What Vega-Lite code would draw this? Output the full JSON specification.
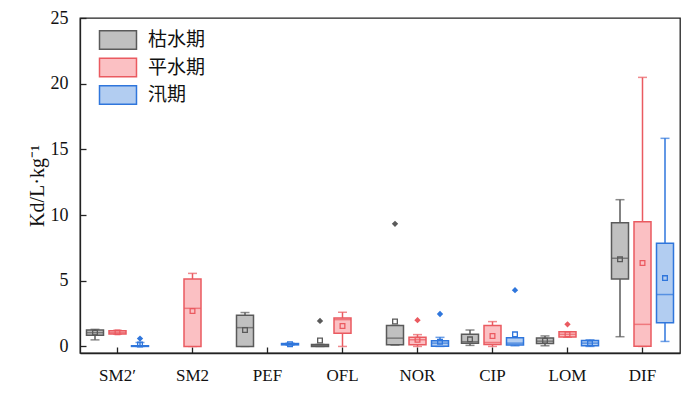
{
  "$schema": "https://vega.github.io/schema/vega-lite/v6.json",
  "width": 600,
  "height": 335,
  "autosize": "none",
  "padding": {"left": 80, "top": 18, "right": 20, "bottom": 40},
  "background": "white",
  "config": {
    "view": {"stroke": "#222", "strokeWidth": 1.3},
    "axis": {"grid": false, "domainColor": "#222", "domainWidth": 1.3, "tickColor": "#222", "tickWidth": 1.3, "labelFont": "Liberation Serif", "labelColor": "#111", "titleFont": "Liberation Serif", "titleColor": "#111"}
  },
  "datasets": {
    "boxes": [
      {"cat": "SM2′", "season": "枯水期", "min": 0.5, "q1": 0.85, "med": 1.05, "q3": 1.25, "max": 1.3, "mean": 1.05},
      {"cat": "SM2′", "season": "平水期", "min": 0.95, "q1": 0.95, "med": 1.05, "q3": 1.2, "max": 1.22, "mean": 1.07},
      {"cat": "SM2′", "season": "汛期", "min": 0, "q1": 0, "med": 0.02, "q3": 0.05, "max": 0.3, "mean": 0.15},
      {"cat": "SM2", "season": "平水期", "min": 0, "q1": 0, "med": 2.9, "q3": 5.13, "max": 5.56, "mean": 2.7},
      {"cat": "PEF", "season": "枯水期", "min": 0, "q1": 0, "med": 1.43, "q3": 2.37, "max": 2.58, "mean": 1.25},
      {"cat": "PEF", "season": "汛期", "min": 0.1, "q1": 0.12, "med": 0.17, "q3": 0.22, "max": 0.25, "mean": 0.17},
      {"cat": "OFL", "season": "枯水期", "min": 0, "q1": 0, "med": 0.05, "q3": 0.15, "max": 0.15, "mean": 0.45},
      {"cat": "OFL", "season": "平水期", "min": 0, "q1": 1.0, "med": 2.04, "q3": 2.17, "max": 2.6, "mean": 1.55},
      {"cat": "NOR", "season": "枯水期", "min": 0.1, "q1": 0.13, "med": 0.63, "q3": 1.6, "max": 1.6, "mean": 1.9},
      {"cat": "NOR", "season": "平水期", "min": 0, "q1": 0.13, "med": 0.51, "q3": 0.69, "max": 0.9, "mean": 0.5},
      {"cat": "NOR", "season": "汛期", "min": 0, "q1": 0.02, "med": 0.25, "q3": 0.43, "max": 0.69, "mean": 0.35},
      {"cat": "CIP", "season": "枯水期", "min": 0.08, "q1": 0.25, "med": 0.36, "q3": 0.92, "max": 1.25, "mean": 0.54},
      {"cat": "CIP", "season": "平水期", "min": 0, "q1": 0.15, "med": 0.3, "q3": 1.6, "max": 1.89, "mean": 0.79},
      {"cat": "CIP", "season": "汛期", "min": 0.05, "q1": 0.1, "med": 0.25, "q3": 0.66, "max": 0.66, "mean": 0.92},
      {"cat": "LOM", "season": "枯水期", "min": 0.05, "q1": 0.23, "med": 0.4, "q3": 0.64, "max": 0.8, "mean": 0.43},
      {"cat": "LOM", "season": "平水期", "min": 0.7, "q1": 0.71, "med": 0.92, "q3": 1.12, "max": 1.12, "mean": 0.93},
      {"cat": "LOM", "season": "汛期", "min": 0, "q1": 0.05, "med": 0.25, "q3": 0.46, "max": 0.5, "mean": 0.25},
      {"cat": "DIF", "season": "枯水期", "min": 0.74, "q1": 5.13, "med": 6.71, "q3": 9.41, "max": 11.17, "mean": 6.63},
      {"cat": "DIF", "season": "平水期", "min": 0, "q1": 0.02, "med": 1.68, "q3": 9.49, "max": 20.48, "mean": 6.35},
      {"cat": "DIF", "season": "汛期", "min": 0.38, "q1": 1.81, "med": 3.95, "q3": 7.86, "max": 15.84, "mean": 5.2}
    ],
    "outliers": [
      {"cat": "SM2′", "season": "汛期", "value": 0.6},
      {"cat": "OFL", "season": "枯水期", "value": 1.94},
      {"cat": "NOR", "season": "枯水期", "value": 9.33},
      {"cat": "NOR", "season": "平水期", "value": 2.0},
      {"cat": "NOR", "season": "汛期", "value": 2.47},
      {"cat": "CIP", "season": "汛期", "value": 4.28},
      {"cat": "LOM", "season": "平水期", "value": 1.68}
    ]
  },
  "encoding": {
    "x": {"field": "cat", "type": "nominal", "sort": ["SM2′", "SM2", "PEF", "OFL", "NOR", "CIP", "LOM", "DIF"],
      "scale": {"domain": ["SM2′", "SM2", "PEF", "OFL", "NOR", "CIP", "LOM", "DIF"], "paddingInner": 0.1, "paddingOuter": 0.05},
      "axis": {"title": null, "labelAngle": 0, "labelFontSize": 17, "tickSize": -6, "labelPadding": 20, "domain": true}},
    "xOffset": {"field": "season", "type": "nominal", "scale": {"domain": ["枯水期", "平水期", "汛期"], "padding": 0}}
  },
  "layer": [
    {
      "data": {"name": "boxes"},
      "mark": {"type": "rule", "strokeWidth": 1.5},
      "encoding": {
        "y": {"field": "min", "type": "quantitative", "scale": {"domain": [-0.5, 25], "nice": false, "zero": false},
          "axis": {"values": [0, 5, 10, 15, 20, 25], "title": "Kd/L·kg⁻¹", "titleFontSize": 20, "titleFontWeight": "normal", "titlePadding": 3, "labelFontSize": 18, "tickSize": -6, "labelPadding": 18}},
        "y2": {"field": "max"},
        "stroke": {"field": "season", "type": "nominal", "scale": {"domain": ["枯水期", "平水期", "汛期"], "range": ["#5a5a5a", "#ea5a60", "#2f76dc"]}}
      }
    },
    {
      "data": {"name": "boxes"},
      "mark": {"type": "tick", "thickness": 1.5, "size": 9, "orient": "horizontal"},
      "encoding": {
        "y": {"field": "min", "type": "quantitative"},
        "color": {"field": "season", "type": "nominal", "sort": ["枯水期", "平水期", "汛期"], "scale": {"range": ["#5a5a5a", "#ea5a60", "#2f76dc"]}, "legend": null}
      }
    },
    {
      "data": {"name": "boxes"},
      "mark": {"type": "tick", "thickness": 1.5, "size": 9, "orient": "horizontal"},
      "encoding": {
        "y": {"field": "max", "type": "quantitative"},
        "color": {"field": "season", "type": "nominal", "sort": ["枯水期", "平水期", "汛期"], "legend": null}
      }
    },
    {
      "data": {"name": "boxes"},
      "mark": {"type": "bar", "size": 17, "strokeWidth": 1.5},
      "encoding": {
        "y": {"field": "q1", "type": "quantitative"},
        "y2": {"field": "q3"},
        "fill": {"field": "season", "type": "nominal", "scale": {"domain": ["枯水期", "平水期", "汛期"], "range": ["#c0c0c0", "#fbc0c3", "#b2cdf1"]},
          "legend": {"title": null, "orient": "none", "legendX": 28, "legendY": 12, "symbolType": "M-2,-1H2V1H-2Z", "symbolSize": 342, "symbolStrokeWidth": 1.5, "labelFont": "Noto Sans CJK SC", "labelFontSize": 19, "labelColor": "#111", "labelOffset": 20, "rowPadding": 1.5, "symbolOpacity": 1}},
        "stroke": {"field": "season", "type": "nominal",
          "legend": {"title": null, "orient": "none", "legendX": 28, "legendY": 12, "symbolType": "M-2,-1H2V1H-2Z", "symbolSize": 342, "symbolStrokeWidth": 1.5, "labelFont": "Noto Sans CJK SC", "labelFontSize": 19, "labelColor": "#111", "labelOffset": 20, "rowPadding": 1.5, "symbolOpacity": 1}}
      }
    },
    {
      "data": {"name": "boxes"},
      "mark": {"type": "tick", "thickness": 1.5, "size": 17, "orient": "horizontal"},
      "encoding": {
        "y": {"field": "med", "type": "quantitative"},
        "color": {"field": "season", "type": "nominal", "sort": ["枯水期", "平水期", "汛期"], "legend": null}
      }
    },
    {
      "data": {"name": "boxes"},
      "mark": {"type": "point", "shape": "square", "size": 22, "filled": false, "strokeWidth": 1.3, "opacity": 1},
      "encoding": {
        "y": {"field": "mean", "type": "quantitative"},
        "color": {"field": "season", "type": "nominal", "sort": ["枯水期", "平水期", "汛期"], "legend": null}
      }
    },
    {
      "data": {"name": "outliers"},
      "mark": {"type": "point", "shape": "diamond", "size": 40, "filled": true, "opacity": 1},
      "encoding": {
        "y": {"field": "value", "type": "quantitative"},
        "color": {"field": "season", "type": "nominal", "sort": ["枯水期", "平水期", "汛期"], "legend": null}
      }
    }
  ]
}
